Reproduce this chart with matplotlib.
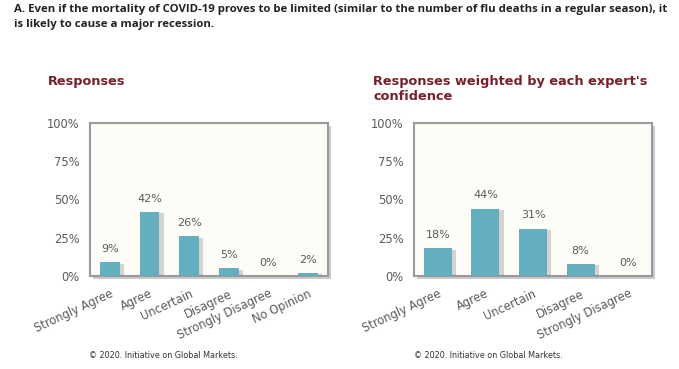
import matplotlib.pyplot as plt
import matplotlib.patheffects as pe

# IGM expert panel: question A, plain and confidence-weighted responses

title = ("A. Even if the mortality of COVID-19 proves to be limited (similar to the number "
         "of flu deaths in a regular season), it\nis likely to cause a major recession.")

cats_left = ["Strongly Agree", "Agree", "Uncertain", "Disagree", "Strongly Disagree", "No Opinion"]
vals_left = [9, 42, 26, 5, 0, 2]

cats_right = ["Strongly Agree", "Agree", "Uncertain", "Disagree", "Strongly Disagree"]
vals_right = [18, 44, 31, 8, 0]

yticks = [0, 25, 50, 75, 100]

W, H = 679, 369
bar_col = "#63aebf"
grey = "#5a5a5a"
dark_red = "#7a1f28"

fig = plt.figure(figsize=(W / 100, H / 100), dpi=100)
fig.patch.set_facecolor("white")


def px(x, y):
    return x / W, 1 - y / H


def panel(left, cats, vals, width):
    x0, y0 = px(left, 276)
    ax = fig.add_axes([x0, y0, 238 / W, 153 / H])
    ax.set_facecolor("#fdfcf6")
    ax.patch.set_path_effects([pe.SimplePatchShadow(offset=(2, -2), shadow_rgbFace="#999999", alpha=0.5),
                               pe.Normal()])
    bars = ax.bar(range(len(cats)), vals, width=width, color=bar_col, zorder=3)
    for b in bars:
        b.set_path_effects([pe.SimplePatchShadow(offset=(3, -1), shadow_rgbFace="#777777", alpha=0.3),
                            pe.Normal()])
    for i, v in enumerate(vals):
        ax.annotate(f"{v}%", (i, v), xytext=(0, 9.5), textcoords="offset points",
                    ha="center", va="center", fontsize=8, color=grey)
    ax.set_xlim(-0.5, len(cats) - 0.5)
    ax.set_ylim(0, 100)
    ax.set_yticks(yticks)
    ax.set_yticklabels([f"{t}%" for t in yticks])
    ax.set_xticks(range(len(cats)))
    ax.set_xticklabels(cats, rotation=25, ha="right", rotation_mode="anchor")
    ax.tick_params(length=0, labelsize=8.3, colors=grey)
    ax.tick_params(axis="y", pad=7.5)
    ax.tick_params(axis="x", pad=8)
    for s in ax.spines.values():
        s.set_color("#9a9a9a")
        s.set_linewidth(1.5)
    return ax


panel(90, cats_left, vals_left, 0.5)
panel(414, cats_right, vals_right, 0.59)

fig.text(*px(14, 4), title, fontsize=8.2, fontweight="bold", family="Open Sans",
         color="#222222", va="top", ha="left", linespacing=1.55)

fig.text(*px(48, 75), "Responses", fontsize=9.3, fontweight="bold", color=dark_red,
         va="top", ha="left")
fig.text(*px(373, 75), "Responses weighted by each expert's\nconfidence", fontsize=9.3,
         fontweight="bold", color=dark_red, va="top", ha="left", linespacing=1.25)

fig.text(*px(163, 356), "\u00a9 2020. Initiative on Global Markets.", fontsize=5.8,
         color="#333333", ha="center", va="center")
fig.text(*px(488, 356), "\u00a9 2020. Initiative on Global Markets.", fontsize=5.8,
         color="#333333", ha="center", va="center")

fig.savefig("out.png", dpi=100)
